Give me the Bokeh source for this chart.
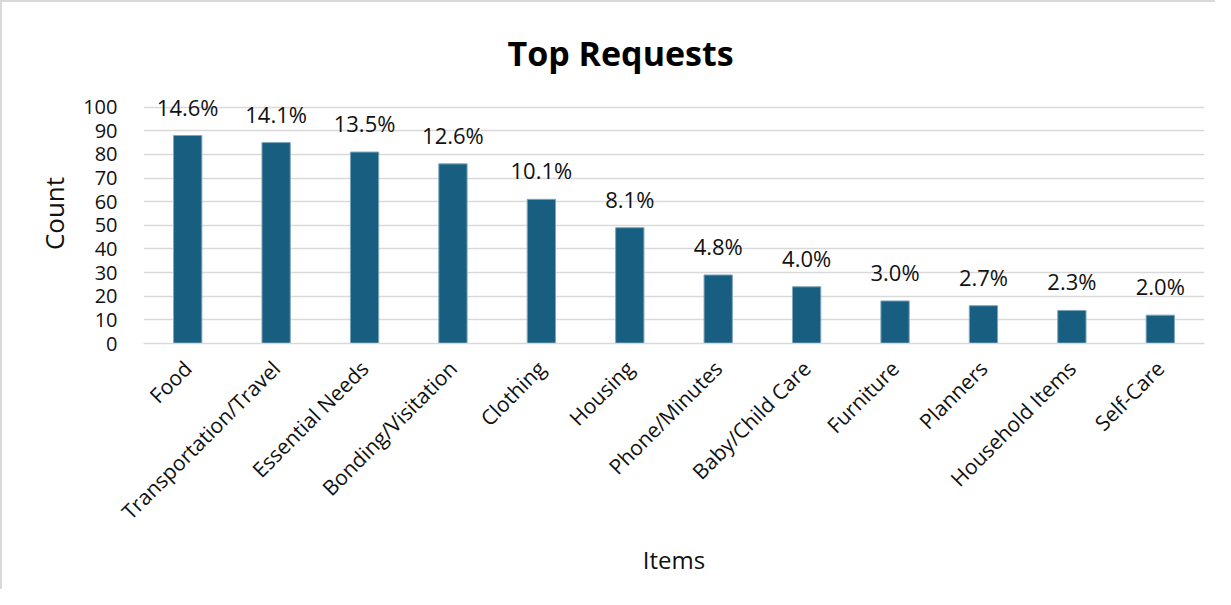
import math
from bokeh.plotting import figure
from bokeh.models import ColumnDataSource, LabelSet, Range1d, FixedTicker
from bokeh.core.properties import value
from bokeh.embed import file_html
from bokeh.resources import INLINE

categories = ["Food", "Transportation/Travel", "Essential Needs", "Bonding/Visitation",
              "Clothing", "Housing", "Phone/Minutes", "Baby/Child Care", "Furniture",
              "Planners", "Household Items", "Self-Care"]
counts = [88, 85, 81, 76, 61, 49, 29, 24, 18, 16, 14, 12]
pct_labels = ["14.6%", "14.1%", "13.5%", "12.6%", "10.1%", "8.1%", "4.8%", "4.0%",
              "3.0%", "2.7%", "2.3%", "2.0%"]
y_ticks = [0, 10, 20, 30, 40, 50, 60, 70, 80, 90, 100]

FONT = "Open Sans"
BAR = "#175E80"

src = ColumnDataSource(dict(cat=categories, cnt=counts, pct=pct_labels))

p = figure(x_range=categories, width=1215, height=589, output_backend="svg",
           toolbar_location=None, min_border_left=141, min_border_right=13,
           min_border_top=81, min_border_bottom=248,
           title="Top Requests")
p.styles = {"border-top": "2px solid #d9d9d9", "border-left": "2px solid #d9d9d9"}
p.y_range = Range1d(0, 110)
p.vbar(x="cat", top="cnt", width=0.32, source=src, fill_color=BAR,
       line_color="#7fa6bb", line_width=1)

labels = LabelSet(x="cat", y="cnt", text="pct", source=src, y_offset=14,
                  text_align="center", text_baseline="bottom",
                  text_font=value(FONT), text_font_size="22px", text_color="#111111")
p.add_layout(labels)

p.title.align = "left"
p.title.text_font = FONT
p.title.text_font_size = "34px"
p.title.text_font_style = "bold"
p.title.text_color = "#000000"
p.title.offset = 364
p.title.standoff = 16

p.outline_line_color = None
p.xgrid.grid_line_color = None
p.ygrid.grid_line_color = "#d9d9d9"
p.ygrid.grid_line_width = 1.5
p.yaxis.ticker = FixedTicker(ticks=y_ticks)
p.yaxis.axis_line_color = None
p.yaxis.major_tick_line_color = None
p.yaxis.minor_tick_line_color = None
p.yaxis.major_label_text_font = FONT
p.yaxis.major_label_text_font_size = "20px"
p.yaxis.major_label_text_color = "#111111"
p.yaxis.major_label_standoff = 20
p.yaxis.axis_label = "Count"
p.yaxis.axis_label_text_font = FONT
p.yaxis.axis_label_text_font_size = "26px"
p.yaxis.axis_label_text_font_style = "normal"
p.yaxis.axis_label_text_color = "#111111"
p.yaxis.axis_label_standoff = 8

p.xaxis.axis_line_color = "#d9d9d9"
p.xaxis.axis_line_width = 1.5
p.xaxis.major_tick_line_color = None
p.xaxis.minor_tick_line_color = None
p.xaxis.major_label_orientation = math.pi / 4
p.xaxis.major_label_text_font = FONT
p.xaxis.major_label_text_font_size = "21px"
p.xaxis.major_label_text_color = "#111111"
p.xaxis.major_label_standoff = 15
p.xaxis.axis_label = "Items"
p.xaxis.axis_label_text_font = FONT
p.xaxis.axis_label_text_font_size = "24px"
p.xaxis.axis_label_text_font_style = "normal"
p.xaxis.axis_label_text_color = "#111111"
p.xaxis.axis_label_standoff = 5

open("out.html", "w").write(file_html(p, INLINE))
